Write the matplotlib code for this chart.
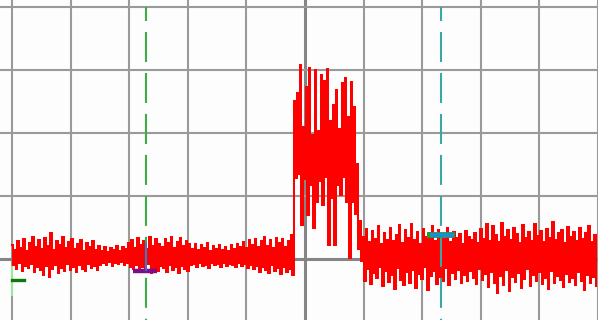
import numpy as np
import matplotlib
matplotlib.use("Agg")
import matplotlib.pyplot as plt

# 示波器截图复原：10 格横向，纵向 1 格 = 63 counts
samples_per_div = 39.0

# 基线段 (每对: 峰, 谷)
base_hi = [14, 9, 18, 11, 20, 8, 16, 22, 12, 19,
           10, 21, 13, 26, 9, 18, 14, 22, 11, 17,
           20, 10, 15, 19, 8, 16, 12, 18, 9, 13,
           8, 12, 7, 11, 9, 13, 8, 12, 10, 16,
           19, 11, 21, 14, 18, 10, 22, 13, 20, 15,
           12, 20, 16, 22, 11, 17, 21, 13, 18, 15,
           10, 15, 9, 14, 11, 16, 8, 13, 10, 14,
           9, 12, 8, 14, 10, 15, 12, 17, 11, 19,
           14, 20, 12, 18, 22, 13, 19, 11, 21, 16,
           20, 12, 18, 24]
base_lo = [-6, -10, -4, -12, -7, -9, -5, -13, -8, -11,
           -16, -7, -18, -10, -6, -14, -9, -12, -5, -11,
           -8, -13, -6, -10, -12, -5, -9, -7, -11, -6,
           -4, -6, -3, -7, -4, -5, -3, -6, -4, -8,
           -10, -6, -13, -8, -11, -5, -14, -9, -12, -7,
           -9, -13, -6, -11, -8, -14, -7, -10, -12, -6,
           -5, -8, -4, -7, -6, -9, -4, -6, -5, -8,
           -4, -7, -5, -6, -8, -4, -7, -5, -9, -6,
           -10, -7, -13, -8, -11, -14, -6, -12, -9, -15,
           -8, -13, -10, -16]

# 脉冲段
burst_hi = [158, 166, 194, 132, 172, 191, 124, 189, 128, 184, 178,
            190, 138, 154, 169, 130, 176, 181, 142, 177, 152, 95]
burst_lo = [81, 85, 34, 80, 44, 74, 31, 57, 78, 54, 82,
            14, 61, 14, 74, 64, 82, 57, 1, 57, 45, 10]

# 尾段
tail_hi = [38, 22, 30, 17, 28, 20, 33, 15, 26, 19,
           31, 18, 24, 34, 16, 29, 21, 35, 19, 27,
           15, 30, 22, 26, 33, 18, 29, 24, 20, 31,
           17, 27, 21, 25, 15, 28, 22, 19, 26, 16,
           30, 20, 35, 18, 33, 24, 17, 36, 22, 29,
           19, 31, 25, 16, 34, 21, 27, 18, 35, 23,
           28, 17, 30, 21, 37, 19, 26, 29, 16, 32,
           22, 27, 18, 31, 20, 26, 33, 17, 24]
tail_lo = [-2, -22, -10, -25, -14, -19, -8, -27, -12, -23,
           -16, -30, -9, -21, -26, -13, -24, -11, -29, -15,
           -20, -8, -31, -17, -12, -25, -18, -22, -9, -26,
           -14, -20, -11, -24, -16, -22, -12, -19, -25, -10,
           -21, -15, -28, -13, -24, -34, -17, -26, -11, -32,
           -18, -23, -14, -29, -20, -10, -27, -16, -22, -13,
           -25, -19, -30, -12, -24, -17, -21, -28, -15, -23,
           -19, -26, -13, -22, -31, -16, -24, -18, -27]

# 光标位置 (格)
cursor_green = 2.295
cursor_cyan = 7.32

hi = np.array(base_hi + burst_hi + tail_hi)
lo = np.array(base_lo + burst_lo + tail_lo)
signal = np.column_stack([hi, lo]).ravel()
t = np.arange(len(signal)) / samples_per_div

plt.rcParams['lines.scale_dashes'] = False
fig = plt.figure(figsize=(5.98, 3.2), dpi=100, facecolor='#fdfdfd')
ax = fig.add_axes([0, 0, 1, 1])
ax.set_facecolor('#fdfdfd')
ax.set_xlim(-12 * 10 / 586.0, 10)
ax.set_ylim(-61, 259)
ax.axis('off')

# 网格
for d in range(11):
    if d == 5:
        ax.axvline(d, color='#858585', lw=2.2, zorder=1)
    else:
        ax.axvline(d, color='#9a9a9a', lw=1.5, zorder=1)
for k in range(5):
    v = k * 63
    if k == 0:
        ax.axhline(v, color='#858585', lw=2.2, zorder=1)
    else:
        ax.axhline(v, color='#9a9a9a', lw=1.5, zorder=1)

# 波形
ax.plot(t, signal, color='#ff0000', lw=1.15, zorder=3,
        drawstyle='steps-mid', antialiased=False)

# 光标虚线
for xc, col in [(cursor_green, '#3cae48'), (cursor_cyan, '#3aa6a6')]:
    ax.plot([xc, xc], [252, -61], color=col, lw=1.5, zorder=4,
            linestyle=(11.5, (21.6, 7.9)))

# 标记
ax.plot([0, 0], [-8, -36], color='#98ec98', lw=1.4, zorder=5)
ax.plot([0, 0.21], [-21, -21], color='#0b7a0b', lw=2.4, zorder=5)
ax.plot([2.065, 2.474], [-11.5, -11.5], color='#800a8c', lw=3.2, zorder=5,
        solid_capstyle='butt')
ax.plot([cursor_green, cursor_green], [16, -11], color='#2f78e0', lw=1.3, zorder=6)
ax.plot([7.08, 7.56], [24, 24], color='#1fa02a', lw=4.2, zorder=5,
        solid_capstyle='butt')
ax.plot([7.13, 7.54], [24, 24], color='#1a8ce0', lw=3.0, zorder=6,
        solid_capstyle='butt')

fig.savefig('out.png', dpi=100, facecolor=fig.get_facecolor())
